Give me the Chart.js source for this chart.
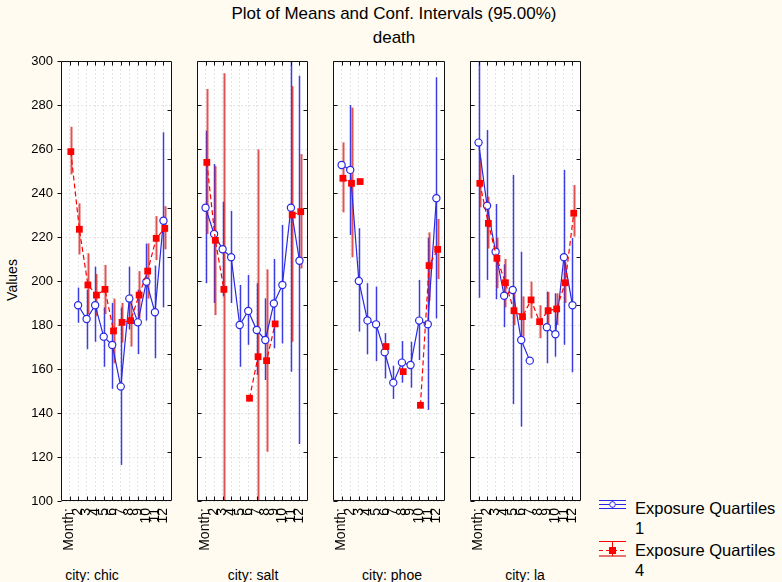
<!DOCTYPE html>
<html>
<head>
<meta charset="utf-8">
<script src="https://cdn.jsdelivr.net/npm/chart.js@4.4.1/dist/chart.umd.min.js"></script>
<style>
  html,body{margin:0;padding:0;}
  body{width:782px;height:582px;position:relative;overflow:hidden;background:#fffbf0;
       font-family:"Liberation Sans",Arial,Helvetica,sans-serif;color:#000;}
  canvas{position:absolute;left:0;top:0;}
  .t{position:absolute;white-space:nowrap;}
</style>
</head>
<body>
<div class="t" style="left:0;width:788px;top:4px;text-align:center;font-size:17px;line-height:20px;">Plot of Means and Conf. Intervals (95.00%)</div>
<div class="t" style="left:0;width:788px;top:28px;text-align:center;font-size:17px;line-height:20px;">death</div>
<div class="t" style="left:-18px;top:271px;width:60px;text-align:center;font-size:14px;line-height:18px;transform:rotate(-90deg);">Values</div>
<div class="t" style="left:42px;width:100px;top:566px;text-align:center;font-size:14px;line-height:18px;">city: chic</div>
<div class="t" style="left:203px;width:100px;top:566px;text-align:center;font-size:14px;line-height:18px;">city: salt</div>
<div class="t" style="left:342px;width:100px;top:566px;text-align:center;font-size:14px;line-height:18px;">city: phoe</div>
<div class="t" style="left:475px;width:100px;top:566px;text-align:center;font-size:14px;line-height:18px;">city: la</div>
<div class="t" style="left:635px;top:498px;font-size:16.5px;line-height:20px;">Exposure Quartiles<br>1</div>
<div class="t" style="left:635px;top:540px;font-size:16.5px;line-height:20px;">Exposure Quartiles<br>4</div>
<canvas id="p0" width="782" height="582"></canvas>
<canvas id="p1" width="782" height="582"></canvas>
<canvas id="p2" width="782" height="582"></canvas>
<canvas id="p3" width="782" height="582"></canvas>
<script>
// ---------------- DATA ----------------
const months = [1,2,3,4,5,6,7,8,9,10,11,12];
const monthLabels = ['Month:','2','3','4','5','6','7','8','9','10','11','12'];
const yTicks = [100,120,140,160,180,200,220,240,260,280,300];
const cities = ['chic','salt','phoe','la'];
const seriesNames = ['Exposure Quartiles 1','Exposure Quartiles 4'];

// chic
const chicQ1   = [null,189,182.7,189,174.7,170.9,152,192,181.2,199.7,185.8,227.4];
const chicQ1Lo = [null,181,169,172.4,161,151,116.4,178,166.8,182,164.9,188];
const chicQ1Hi = [null,197,196,206.5,188,190,188,206.5,196,217,207,267.6];
const chicQ4   = [258.8,223.5,198.2,193.6,196.2,177.3,181.2,182,193.6,204.5,219.4,223.9];
const chicQ4Lo = [248.5,212.1,185,184,185,162.6,172,170.2,183,192,209.5,214.4];
const chicQ4Hi = [270.1,235.3,212.6,203.2,207.3,192,190,194,204.5,217.1,229.5,234];
// salt
const saltQ1   = [233.3,221.4,214.4,210.8,180,186.4,177.7,173.2,189.8,198.2,233.3,209.2];
const saltQ1Lo = [199,190,193,190,161,171,157.3,155,169.4,171.6,158.8,125.9];
const saltQ1Hi = [268.3,253.2,236,231.8,198.2,202.7,199,192.1,210,225.5,310,293.3];
const saltQ4   = [253.9,218.5,196.2,null,null,146.7,165.6,163.8,180.5,null,230,231.5];
const saltQ4Lo = [221.4,184.5,95,null,null,null,95,122.4,null,null,172.4,205.7];
const saltQ4Hi = [287.3,252.3,294.4,null,null,null,259.8,205.3,null,null,288.6,257.7];
// phoe
const phoeQ1   = [252.7,250.5,200,182.1,180.3,167.6,153.8,162.9,161.8,182,180.3,237.6];
const phoeQ1Lo = [null,220.9,177,166.7,163.6,155.7,146.4,153.8,151.5,164.1,141.4,183];
const phoeQ1Hi = [null,280,224,199,197.4,176.3,161.5,172.7,172.4,200.5,219.7,292.6];
const phoeQ4   = [246.7,244.4,245.2,null,null,170.2,null,158.8,null,143.5,207,214.4];
const phoeQ4Lo = [231.2,210.8,null,null,null,null,null,null,null,null,191,200.9];
const phoeQ4Hi = [263,278.8,null,null,null,null,null,null,null,null,222.1,228.2];
// la
const laQ1   = [262.9,234.2,213.3,193.3,195.9,173.2,163.8,null,179,175.8,210.8,189];
const laQ1Lo = [192.4,200.5,191.7,179,144,133.8,null,null,162.6,165.6,171,158.5];
const laQ1Hi = [335,268.6,235,207.6,248.2,213.3,null,null,195.2,194.4,250.5,219.5];
const laQ4   = [244.4,226.2,210.3,199.2,186.5,183.8,191.4,181.5,186.5,187.3,199.2,230.8];
const laQ4Lo = [233.5,214.8,196.7,188,180,174.7,183,174,180,180,190,220.2];
const laQ4Hi = [255.8,238.3,219.7,210,196,193,199.7,189,195,194.4,208.8,243.6];

const cityData = {
  chic: [[chicQ1,chicQ1Lo,chicQ1Hi],[chicQ4,chicQ4Lo,chicQ4Hi]],
  salt: [[saltQ1,saltQ1Lo,saltQ1Hi],[saltQ4,saltQ4Lo,saltQ4Hi]],
  phoe: [[phoeQ1,phoeQ1Lo,phoeQ1Hi],[phoeQ4,phoeQ4Lo,phoeQ4Hi]],
  la:   [[laQ1,laQ1Lo,laQ1Hi],[laQ4,laQ4Lo,laQ4Hi]]
};

// ---------------- LAYOUT / STYLE ----------------
const panelLeft  = [61,197,333,470];
const panelRight = [172,308,445,581];
const plotTop = 61, plotBottom = 501;
const W = 782, H = 582;
const Y_AXIS_W = 55, X_AXIS_H = 60;
const BLUE = '#2828e6', RED = '#ff0000';
const styles = [
  {color:BLUE, bar:'rgba(40,40,225,0.9)', barW:1.5, dash:[], pointStyle:'circle', radius:3.6, bg:'#ffffff', bw:1.2, dx:0, order:1},
  {color:RED,  bar:'rgba(215,25,25,0.75)', barW:2, dash:[5,3], pointStyle:'rect', radius:4.8, bg:RED, bw:0, dx:0.15, order:0}
];

const framePlugin = {
  id:'frame',
  beforeDraw(chart){
    const {ctx, chartArea:a} = chart;
    ctx.save();
    ctx.fillStyle = '#ffffff';
    ctx.fillRect(a.left, a.top, a.right-a.left, a.bottom-a.top);
    ctx.restore();
  },
  beforeDatasetsDraw(chart){
    const {ctx, chartArea:a, scales} = chart;
    const x = scales.x, y = scales.y;
    ctx.save();
    ctx.beginPath(); ctx.rect(a.left, a.top, a.right-a.left, a.bottom-a.top); ctx.clip();
    chart.data.datasets.forEach(ds => {
      ctx.strokeStyle = ds.barColor; ctx.lineWidth = ds.barWidth;
      ds.lo.forEach((lo, i) => {
        const hi = ds.hi[i];
        if (lo == null || hi == null) return;
        const px = Math.round(x.getPixelForValue(months[i] + ds.dx)) + 0.5;
        ctx.beginPath();
        ctx.moveTo(px, y.getPixelForValue(lo));
        ctx.lineTo(px, y.getPixelForValue(hi));
        ctx.stroke();
      });
    });
    ctx.restore();
  },
  afterDraw(chart, args, opts){
    const {ctx, chartArea:a, scales} = chart;
    const x = scales.x, y = scales.y;
    const L = Math.round(a.left)+0.5, R = Math.round(a.right)-0.5, T = Math.round(a.top)+0.5, B = Math.round(a.bottom)-0.5;
    ctx.save();
    ctx.strokeStyle = '#111'; ctx.lineWidth = 1;
    ctx.beginPath();
    ctx.rect(L, T, R-L, B-T);
    months.forEach(m => {
      const px = Math.round(x.getPixelForValue(m)) + 0.5;
      ctx.moveTo(px, T); ctx.lineTo(px, T+4);
      ctx.moveTo(px, B); ctx.lineTo(px, B-4);
    });
    yTicks.forEach(v => {
      const py = Math.round(y.getPixelForValue(v)) + 0.5;
      if (opts.first) { ctx.moveTo(L-4, py); ctx.lineTo(L, py); }
      else { ctx.moveTo(L, py); ctx.lineTo(L+4, py); }
    });
    for (let k = 1; k < 9; k++) {
      const py = Math.round(T + k*(B-T)/9) + 0.5;
      ctx.moveTo(R, py); ctx.lineTo(R-4, py);
    }
    ctx.stroke();

    if (opts.legend) {
      const x0 = 599, x1 = 626, xc = 612.5;
      ctx.strokeStyle = BLUE; ctx.lineWidth = 1;
      ctx.beginPath();
      ctx.moveTo(x0, 500.5); ctx.lineTo(x1, 500.5);
      ctx.moveTo(x0, 504.5); ctx.lineTo(x1, 504.5);
      ctx.moveTo(x0, 508.5); ctx.lineTo(x1, 508.5);
      ctx.moveTo(xc, 500); ctx.lineTo(xc, 509);
      ctx.stroke();
      ctx.beginPath(); ctx.arc(xc, 504.5, 2.8, 0, Math.PI*2);
      ctx.fillStyle = '#fff'; ctx.fill(); ctx.stroke();
      ctx.strokeStyle = RED; ctx.lineWidth = 1;
      ctx.beginPath(); ctx.moveTo(x0, 541.5); ctx.lineTo(x1, 541.5);
      ctx.moveTo(xc, 541); ctx.lineTo(xc, 556); ctx.stroke();
      ctx.setLineDash([4,3]);
      ctx.beginPath(); ctx.moveTo(x0, 550.5); ctx.lineTo(x1, 550.5); ctx.stroke();
      ctx.setLineDash([]);
      ctx.strokeStyle = 'rgba(215,25,25,0.6)'; ctx.lineWidth = 2;
      ctx.beginPath(); ctx.moveTo(x0, 556); ctx.lineTo(x1, 556); ctx.stroke();
      ctx.fillStyle = RED; ctx.fillRect(xc-3.5, 547, 7, 7);
    }
    ctx.restore();
  }
};

function makeChart(idx) {
  const city = cities[idx];
  const datasets = cityData[city].map((s, j) => {
    const st = styles[j];
    return {
      label: seriesNames[j],
      data: months.map((m, i) => ({x: m + st.dx, y: s[0][i]})),
      lo: s[1], hi: s[2], dx: st.dx,
      barColor: st.bar, barWidth: st.barW,
      borderColor: st.color, borderWidth: 1.2, borderDash: st.dash,
      pointStyle: st.pointStyle, pointRadius: st.radius,
      pointBackgroundColor: st.bg, pointBorderColor: st.color, pointBorderWidth: st.bw,
      spanGaps: false, tension: 0, fill: false, order: st.order
    };
  });
  const yw = idx === 0 ? Y_AXIS_W : 0;
  return new Chart(document.getElementById('p' + idx), {
    type: 'line',
    data: { datasets },
    options: {
      responsive: false, animation: false, devicePixelRatio: 1,
      layout: { padding: { left: panelLeft[idx] - yw, right: W - panelRight[idx], top: plotTop, bottom: H - plotBottom - X_AXIS_H } },
      plugins: { legend: {display:false}, tooltip:{enabled:false}, title:{display:false},
                 frame: { first: idx === 0, legend: idx === 3 } },
      scales: {
        x: {
          type: 'linear', min: 0, max: 13, position: 'bottom',
          afterBuildTicks: sc => { sc.ticks = months.map(m => ({value: m})); },
          afterFit: sc => { sc.height = X_AXIS_H; },
          ticks: { autoSkip: false, minRotation: 90, maxRotation: 90, padding: 7,
                   color: '#000', font: {family: '"Liberation Sans", Arial, sans-serif', size: 14},
                   callback: v => monthLabels[months.indexOf(v)] },
          grid: { color: '#e4e4e4', lineWidth: 1, drawTicks: false },
          border: { display: false, dash: [2,2] }
        },
        y: {
          type: 'linear', min: 100, max: 300, position: 'left',
          afterBuildTicks: sc => { sc.ticks = yTicks.map(v => ({value: v})); },
          afterFit: sc => { sc.width = yw; },
          ticks: { display: idx === 0, padding: 8, color: '#000',
                   font: {family: '"Liberation Sans", Arial, sans-serif', size: 13} },
          grid: { color: '#e4e4e4', lineWidth: 1, drawTicks: false },
          border: { display: false, dash: [2,2] }
        }
      }
    },
    plugins: [framePlugin]
  });
}
[0,1,2,3].forEach(makeChart);
</script>
</body>
</html>
